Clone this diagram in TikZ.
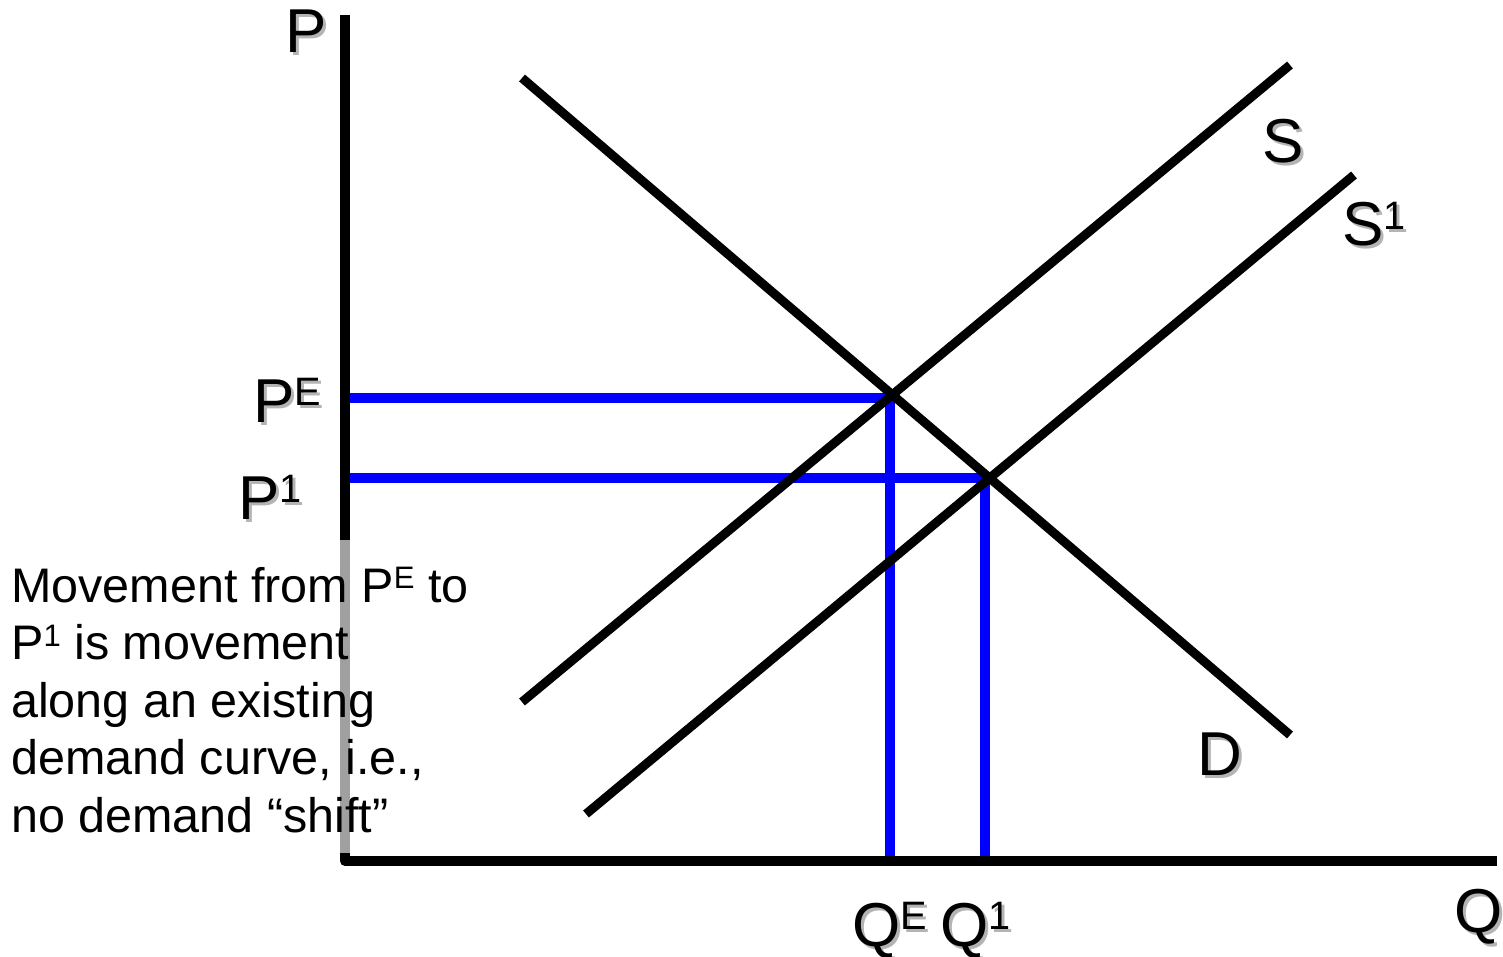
\documentclass[tikz,border=0pt]{standalone}
\usepackage{fontspec}
\setmainfont{Liberation Sans}
\usepackage{graphicx}
\definecolor{pureblue}{RGB}{0,0,255}
\definecolor{shadowgray}{RGB}{180,180,180}
\definecolor{axisgray}{RGB}{160,160,160}
\newcommand{\supx}[1]{\raisebox{.27em}{\scalebox{.64}{#1}}}
\newcommand{\shlabel}[3]{%
  \node[lbl,text=shadowgray,xshift=3pt,yshift=-3pt] (#1-sh) at (#2) {#3};
  \node[lbl] (#1) at (#2) {#3};}
\begin{document}
\begin{tikzpicture}[x=1pt,y=-1pt,
  axis/.style={line width=10pt, line join=round},
  curve/.style={line width=9pt},
  guide/.style={line width=10pt, draw=pureblue},
  lbl/.style={inner sep=0pt, anchor=base west, font=\fontsize{62}{74}\selectfont},
  note/.style={inner sep=0pt, anchor=base west, align=left, font=\fontsize{48.5}{57.5}\selectfont}]
\useasboundingbox (0,0) rectangle (1503,957);

% coordinates
\coordinate (O) at (345,861);
\coordinate (Ptop) at (345,15);
\coordinate (Qend) at (1497,861);
\coordinate (gA) at (345,540);
\coordinate (gB) at (345,853);
\coordinate (Da) at (522,78);
\coordinate (Db) at (1290,735);
\coordinate (Sa) at (522,702);
\coordinate (Sb) at (1290,65);
\coordinate (Ta) at (586,814);
\coordinate (Tb) at (1354,175);
\coordinate (E) at (890,398);
\coordinate (E1) at (985,478);
\coordinate (PEax) at (345,398);
\coordinate (P1ax) at (345,478);
\coordinate (QEax) at (890,861);
\coordinate (Q1ax) at (985,861);

% blue guides
\draw[guide] (PEax) -- (E) -- (QEax);
\draw[guide] (P1ax) -- (E1) -- (Q1ax);

% curves
\draw[curve] (Da) -- (Db);
\draw[curve] (Sa) -- (Sb);
\draw[curve] (Ta) -- (Tb);

% axes
\draw[axis] (Ptop) -- (O) -- (Qend);
\draw[line width=10pt, draw=axisgray] (gA) -- (gB);

% labels
\shlabel{lP}{285,53}{P}
\shlabel{lPE}{253,422}{P\supx{E}}
\shlabel{lP1}{238,519}{P\supx{1}}
\shlabel{lS}{1262,163}{S}
\shlabel{lS1}{1342,246}{S\supx{1}}
\shlabel{lD}{1197,775}{D}
\shlabel{lQE}{852,946}{Q\supx{E}}
\shlabel{lQ1}{940,946}{Q\supx{1}}
\shlabel{lQ}{1454,932}{Q}

% note (base anchor = last line baseline)
\node[note] (note) at (11,832) {Movement from P\supx{E} to\\P\supx{1} is movement\\along an existing\\demand curve, i.e.,\\no demand “shift”};
\end{tikzpicture}
\end{document}
